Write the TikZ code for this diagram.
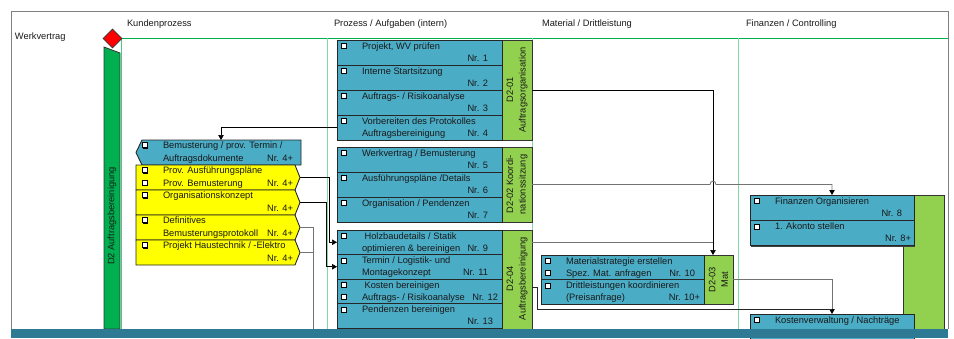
\documentclass[tikz,border=0pt]{standalone}
\usepackage{fontspec}
\setmainfont{Liberation Sans}
\usetikzlibrary{arrows.meta,shapes.geometric,calc}
\definecolor{cblue}{HTML}{4BACC6}
\definecolor{cgreen}{HTML}{92D050}
\definecolor{dgreen}{HTML}{00B050}
\definecolor{lgreen}{HTML}{7FD8A6}
\definecolor{cteal}{HTML}{2E7A94}
\definecolor{cyel}{HTML}{FFFF00}
\definecolor{cred}{HTML}{FF0000}
\tikzset{
 txt/.style={font=\fontsize{9.3}{11}\selectfont, inner sep=0, outer sep=0, text=black!90},
 rtxt/.style={font=\fontsize{9.3}{12.5}\selectfont, inner sep=0, outer sep=0, text=black!90, rotate=90, align=center},
 shadowed/.style={preaction={fill=black!75, transform canvas={shift={(1.2pt,-1.2pt)}}}},
 bbox/.style={draw=black!85, fill=cblue, line width=0.9pt, inner sep=0, outer sep=0, shadowed},
 gbox/.style={draw=black!80, fill=cgreen, line width=0.9pt, inner sep=0, outer sep=0},
 hidden/.style={draw=none, inner sep=0, outer sep=0},
 ybox/.style={draw=black!85, fill=cyel, line width=0.9pt},
 lbshape/.style={draw=black!85, fill=cblue, line width=0.9pt},
 tip/.style={-{Triangle[length=5pt,width=5.5pt,color=black]}},
 arr/.style={draw=black, line width=0.7pt, tip},
 conn/.style={draw=black!85, line width=0.7pt},
 gconn/.style={draw=black!55, line width=0.8pt},
 lane/.style={draw=lgreen, line width=0.9pt},
 cbox/.pic={\fill[black] (1.1,1.1) rectangle (6.1,6.1); \filldraw[fill=white, draw=black, line width=0.6pt] (0,0) rectangle (5,5);},
}
\def\lone{9.3}
% name, x,y, w, h, style, line1, line2, nr, nr offset
\newcommand\pb[9]{%
 \node[#5, minimum width=#3pt, minimum height=#4pt, anchor=north west] (#1) at (#2) {};
 \node[txt, anchor=base west] (#1-a) at ([shift={(25,\lone)}]#1.north west) {#6};
 \node[txt, anchor=base west] (#1-b) at ([shift={(25,21.3)}]#1.north west) {#7};
 \node[txt, anchor=base east] (#1-n) at ([shift={(-#9,21.3)}]#1.north east) {#8};
 \pic at ([shift={(4,\lone-6)}]#1.north west) {cbox};
}
\newcommand\secondcb[1]{\pic at ([shift={(4,21.3-6)}]#1.north west) {cbox};}
\begin{document}
\begin{tikzpicture}[x=1pt,y=-1pt]
\useasboundingbox (0,0) rectangle (954,338);
% frame and lanes
\draw[black!50, line width=0.9pt] (11,329) -- (11,11) -- (948,11) -- (948,329);
\draw[dgreen, line width=0.9pt] (121,38) -- (948,38);
\draw[dgreen!70, line width=0.9pt] (121,38) -- (121,329);
\draw[lane] (327,38) -- (327,329);
\draw[lane] (532,38) -- (532,329);
\draw[lane] (738,38) -- (738,329);
% headers
\node[txt, anchor=west] (h0) at (15,37) {Werkvertrag};
\node[txt, anchor=west] (h1) at (127,24) {Kundenprozess};
\node[txt, anchor=west] (h2) at (334,24) {Prozess / Aufgaben (intern)};
\node[txt, anchor=west] (h3) at (542,24) {Material / Drittleistung};
\node[txt, anchor=west] (h4) at (746,24) {Finanzen / Controlling};
% start diamond and D2 bar
\node[diamond, draw=black!80, fill=cred, minimum width=19pt, minimum height=19pt, inner sep=0, aspect=1, line width=0.7pt] (start) at (112.5,38.5) {};
\path[draw=black!80, fill=dgreen, line width=0.8pt] (104,47) -- (120,53) -- (120,329) -- (104,329) -- cycle;
\node[txt, rotate=90] (d2t) at (112,216) {D2 Auftragsbereinigung};
% green side boxes
\node[gbox, minimum width=30pt, minimum height=100pt, anchor=north west] (g1) at (502,40) {};
\node[gbox, minimum width=30pt, minimum height=75pt, anchor=north west] (g2) at (502,147) {};
\node[gbox, minimum width=30pt, minimum height=99pt, anchor=north west] (g4) at (502,230) {};
\node[gbox, minimum width=29pt, minimum height=49pt, anchor=north west] (g3) at (704,255) {};
\node[gbox, minimum width=41pt, minimum height=134pt, anchor=north west] (g5) at (903,195) {};
\node[rtxt] (g1t) at (g1.center) {D2-01\\Auftragsorganisation};
\node[rtxt] (g2t) at (g2.center) {D2-02 Koordi-\\nationssitzung};
\node[rtxt] (g4t) at ([shift={(0,-1)}]g4.center) {D2-04\\Auftragsbereinigung};
\node[rtxt] (g3t) at (g3.center) {D2-03\\Mat};
% process boxes
\pb{p1}{337,40}{165}{25}{bbox}{Projekt, WV prüfen}{}{Nr. 1}{14}
\pb{p2}{337,65}{165}{25}{bbox}{Interne Startsitzung}{}{Nr. 2}{14}
\pb{p3}{337,90}{165}{25}{bbox}{Auftrags- / Risikoanalyse}{}{Nr. 3}{14}
\pb{p4}{337,115}{165}{25}{bbox}{Vorbereiten des Protokolles}{Auftragsbereinigung}{Nr. 4}{14}
\pb{p5}{337,147}{165}{25}{bbox}{Werkvertrag / Bemusterung}{}{Nr. 5}{14}
\pb{p6}{337,172}{165}{25}{bbox}{Ausführungspläne /Details}{}{Nr. 6}{14}
\pb{p7}{337,197}{165}{25}{bbox}{Organisation / Pendenzen}{}{Nr. 7}{14}
\pb{p9}{337,230}{165}{24.5}{bbox}{\ Holzbaudetails / Statik}{optimieren \& bereinigen}{Nr. 9}{14}
\pb{p11}{337,254.5}{165}{24.5}{bbox}{Termin / Logistik- und}{Montagekonzept}{Nr. 11}{14}
\pb{p12}{337,279}{165}{24.5}{bbox}{\ Kosten bereinigen}{Auftrags- / Risikoanalyse}{Nr. 12}{4}
\secondcb{p12}
\pb{p13}{337,303.5}{165}{25}{bbox}{Pendenzen bereinigen}{}{Nr. 13}{9}
% material
\pb{m1}{541,255}{163}{24.5}{bbox}{Materialstrategie erstellen}{Spez. Mat. anfragen}{Nr. 10}{9}
\secondcb{m1}
\pb{m2}{541,279.5}{163}{24.5}{bbox}{Drittleistungen koordinieren}{(Preisanfrage)}{Nr. 10+}{4}
% finance
\pb{f1}{750,195}{164}{25.5}{bbox}{Finanzen Organisieren}{}{Nr. 8}{12}
\pb{f2}{750,220.5}{164}{25}{bbox}{1. Akonto stellen}{}{Nr. 8+}{3}
\pb{f3}{750,314}{164}{25}{bbox}{Kostenverwaltung / Nachträge}{}{}{3}
% customer process shapes
\path[lbshape] (142,140) -- (301,140) -- (301,165) -- (142,165) -- (136,152.5) -- cycle;
\foreach \yy in {165,190,215,240}{
 \path[ybox] (136,\yy) -- (295,\yy) -- (300,\yy+12.5) -- (295,\yy+25) -- (136,\yy+25) -- cycle;
}
\def\lone{8.5}
\pb{lb}{138,140}{163}{25}{hidden}{Bemusterung / prov. Termin /}{Auftragsdokumente}{Nr. 4+}{8}
\pb{ya}{138,165}{157}{25}{hidden}{Prov. Ausführungspläne}{Prov. Bemusterung}{Nr. 4+}{2}
\secondcb{ya}
\pb{yb}{138,190}{157}{25}{hidden}{Organisationskonzept}{}{Nr. 4+}{2}
\pb{yc}{138,215}{157}{25}{hidden}{Definitives}{Bemusterungsprotokoll}{Nr. 4+}{2}
\pb{yd}{138,240}{157}{25}{hidden}{Projekt Haustechnik / -Elektro}{}{Nr. 4+}{2}
% coordinates
\coordinate (ya-tip) at ([xshift=5]ya.east);
\coordinate (yb-tip) at ([xshift=5]yb.east);
\coordinate (yc-tip) at ([xshift=5]yc.east);
\coordinate (yd-tip) at ([xshift=5]yd.east);
\coordinate (g3in) at ([xshift=-5.5]g3.north);
\coordinate (lbin) at ([xshift=1.5]lb.north);
\coordinate (k7) at ([xshift=-8]p9.west);
\coordinate (k8) at ([xshift=-11]p11.west);
\coordinate (b9) at (313,329);
\coordinate (c4s) at ([shift={(0,12)}]g4.north east);
\coordinate (c5s) at ([shift={(0,57)}]g4.north east);
\coordinate (j5) at ([shift={(0,-5)}]f3.north);
\coordinate (hop) at (g2.east -| g3in);
% connectors
\draw[arr] (g1.east) -| (g3in);
\draw[gconn, tip] (g2.east) -- ([xshift=-3]hop) .. controls ([shift={(-3,-4.5)}]hop) and ([shift={(3,-4.5)}]hop) .. ([xshift=3]hop) -| (f1.north);
\draw[gconn, tip] (g3.east) -| (f3.north);
\draw[gconn] (c4s) -- (c4s -| g3in);
\draw[conn] (c5s) -- ++(5,0) |- (j5);
\draw[arr] (p4.west) -| (lbin);
\draw[arr] (ya-tip) -| (k7) -- (p9.west);
\draw[arr] (yb-tip) -| (k8) -- (p11.west);
\draw[gconn] (yc-tip) -| (b9);
\draw[gconn] (yd-tip) -- (yd-tip -| b9);
% bottom bar
\fill[cteal] (11,329) rectangle (948,338);
\end{tikzpicture}
\end{document}
